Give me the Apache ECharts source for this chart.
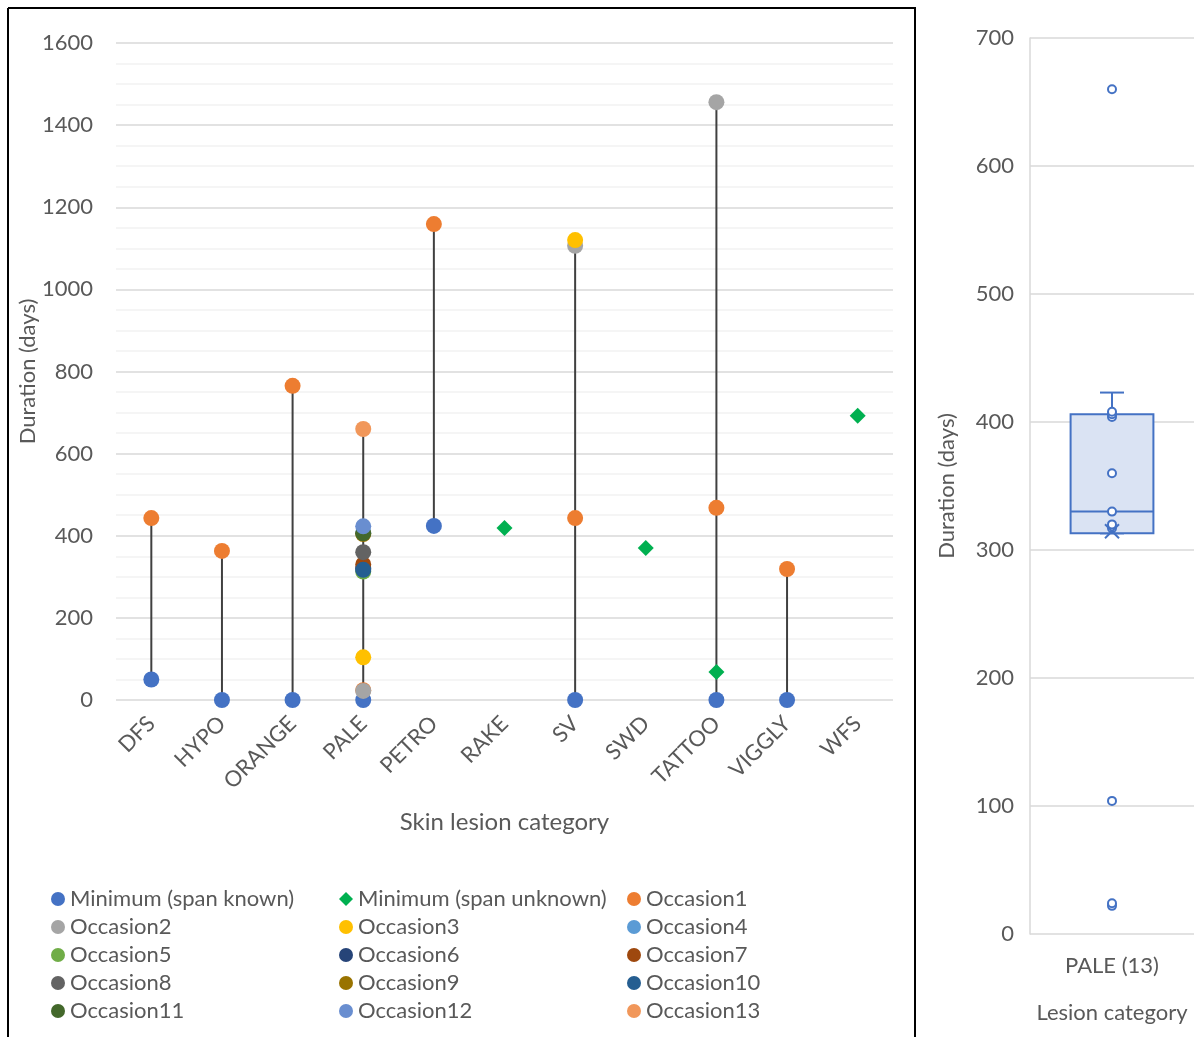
<!DOCTYPE html>
<html><head><meta charset="utf-8">
<script src="https://cdn.jsdelivr.net/npm/echarts@6/dist/echarts.min.js"></script>
<style>html,body{margin:0;padding:0;background:#fff}#c{width:1204px;height:1037px}</style>
</head><body><div id="c"></div>
<script>
const categories = ['DFS','HYPO','ORANGE','PALE','PETRO','RAKE','SV','SWD','TATTOO','VIGGLY','WFS'];
const minKnown   = [50, 0, 0, 0, 424, null, 0, null, 0, 0, null];
const minUnknown = [null, null, null, null, null, 419, null, 370, 68, null, 692];
const occ1  = [443, 363, 765, 24, 1159, null, 443, null, 468, 319, null];
const occ2  = [null, null, null, 22, null, null, 1106, null, 1456, null, null];
const occ3  = [null, null, null, 104, null, null, 1120, null, null, null, null];
const occ4  = [null, null, null, 408, null, null, null, null, null, null, null];
const occ5  = [null, null, null, 313, null, null, null, null, null, null, null];
const occ6  = [null, null, null, 320, null, null, null, null, null, null, null];
const occ7  = [null, null, null, 330, null, null, null, null, null, null, null];
const occ8  = [null, null, null, 360, null, null, null, null, null, null, null];
const occ9  = [null, null, null, 404, null, null, null, null, null, null, null];
const occ10 = [null, null, null, 317, null, null, null, null, null, null, null];
const occ11 = [null, null, null, 406, null, null, null, null, null, null, null];
const occ12 = [null, null, null, 423, null, null, null, null, null, null, null];
const occ13 = [null, null, null, 660, null, null, null, null, null, null, null];
const boxCategory = ['PALE (13)'];

const FONT = 'Lato';
const TXT = '#595959';
const FS = 22;

const occSeries = [
  ['Occasion1', occ1, '#ED7D31'], ['Occasion2', occ2, '#A5A5A5'], ['Occasion3', occ3, '#FFC000'],
  ['Occasion4', occ4, '#5B9BD5'], ['Occasion5', occ5, '#70AD47'], ['Occasion6', occ6, '#264478'],
  ['Occasion7', occ7, '#9E480E'], ['Occasion8', occ8, '#636363'], ['Occasion9', occ9, '#997300'],
  ['Occasion10', occ10, '#255E91'], ['Occasion11', occ11, '#43682B'], ['Occasion12', occ12, '#698ED0'],
  ['Occasion13', occ13, '#F1975A']
];
const allSets = [minKnown, minUnknown].concat(occSeries.map(s => s[1]));

// high-low ranges per category
const ranges = categories.map((c, i) => {
  const vals = allSets.map(a => a[i]).filter(v => v !== null);
  return [i, Math.min(...vals), Math.max(...vals)];
});

// box stats from PALE values
const pIdx = categories.indexOf('PALE');
const pale = occSeries.map(s => s[1][pIdx]).filter(v => v !== null).sort((a, b) => a - b);
function q(arr, p) { const H = (arr.length - 1) * p; const h = Math.floor(H); const e = H - h; return e ? arr[h] + e * (arr[h + 1] - arr[h]) : arr[h]; }
const Q1 = q(pale, 0.25), MED = q(pale, 0.5), Q3 = q(pale, 0.75), IQR = Q3 - Q1;
const hiW = Math.max(...pale.filter(v => v <= Q3 + 1.5 * IQR));
const loW = Math.min(...pale.filter(v => v >= Q1 - 1.5 * IQR));
const mean = pale.reduce((a, b) => a + b, 0) / pale.length;
const innerPts = pale.filter(v => v > loW && v < hiW);
const outPts = pale.filter(v => v < loW || v > hiW);

const series = [];
series.push({
  type: 'custom', xAxisIndex: 0, yAxisIndex: 0, z: 1, silent: true,
  data: ranges,
  renderItem: (params, api) => {
    const a = api.coord([api.value(0), api.value(1)]);
    const b = api.coord([api.value(0), api.value(2)]);
    return { type: 'line', shape: { x1: a[0], y1: a[1], x2: b[0], y2: b[1] }, style: { stroke: '#404040', lineWidth: 2 } };
  }
});
series.push({ name: 'Minimum (span known)', type: 'scatter', symbol: 'circle', symbolSize: 16, z: 3,
  itemStyle: { color: '#4472C4', opacity: 1 }, data: minKnown.map((v, i) => [i, v]) });
series.push({ name: 'Minimum (span unknown)', type: 'scatter', symbol: 'diamond', symbolSize: 16, z: 3,
  itemStyle: { color: '#00B050', opacity: 1 }, data: minUnknown.map((v, i) => [i, v]) });
occSeries.forEach(([n, d, c]) => series.push({ name: n, type: 'scatter', symbol: 'circle', symbolSize: 16, z: 3,
  itemStyle: { color: c, opacity: 1 }, data: d.map((v, i) => [i, v]) }));

// box panel
series.push({
  type: 'custom', xAxisIndex: 1, yAxisIndex: 1, z: 2, silent: true,
  data: [[0, loW, Q1, MED, Q3, hiW]],
  renderItem: (params, api) => {
    const bw = api.size([1, 0])[0] * 0.505;
    const cx = api.coord([0, api.value(3)])[0];
    const yLo = api.coord([0, api.value(1)])[1];
    const yQ1 = api.coord([0, api.value(2)])[1];
    const yMed = api.coord([0, api.value(3)])[1];
    const yQ3 = api.coord([0, api.value(4)])[1];
    const yHi = api.coord([0, api.value(5)])[1];
    const st = { stroke: '#4472C4', lineWidth: 2 };
    const cap = 12;
    return { type: 'group', children: [
      { type: 'line', shape: { x1: cx, y1: yQ3, x2: cx, y2: yHi }, style: st },
      { type: 'line', shape: { x1: cx - cap, y1: yHi, x2: cx + cap, y2: yHi }, style: st },
      { type: 'line', shape: { x1: cx, y1: yQ1, x2: cx, y2: yLo }, style: st },
      { type: 'line', shape: { x1: cx - cap, y1: yLo, x2: cx + cap, y2: yLo }, style: st },
      { type: 'rect', shape: { x: cx - bw / 2, y: yQ3, width: bw, height: yQ1 - yQ3 }, style: { fill: '#DAE3F3', stroke: '#4472C4', lineWidth: 2 } },
      { type: 'line', shape: { x1: cx - bw / 2, y1: yMed, x2: cx + bw / 2, y2: yMed }, style: st }
    ] };
  }
});
series.push({ type: 'scatter', xAxisIndex: 1, yAxisIndex: 1, z: 4, silent: true, symbol: 'circle', symbolSize: 8,
  itemStyle: { color: '#fff', borderColor: '#4472C4', borderWidth: 2, opacity: 1 },
  data: innerPts.concat(outPts).map(v => [0, v]) });
series.push({
  type: 'custom', xAxisIndex: 1, yAxisIndex: 1, z: 5, silent: true,
  data: [[0, mean]],
  renderItem: (params, api) => {
    const p = api.coord([0, api.value(1)]);
    const s = 7;
    return { type: 'group', children: [
      { type: 'line', shape: { x1: p[0] - s, y1: p[1] - s, x2: p[0] + s, y2: p[1] + s }, style: { stroke: '#4472C4', lineWidth: 2 } },
      { type: 'line', shape: { x1: p[0] - s, y1: p[1] + s, x2: p[0] + s, y2: p[1] - s }, style: { stroke: '#4472C4', lineWidth: 2 } }
    ] };
  }
});

function mkLegend(left, names) {
  return { orient: 'vertical', left: left, top: 888, height: 148, padding: 0,
    itemWidth: 14, itemHeight: 14, itemGap: 6, selectedMode: false,
    textStyle: { fontFamily: FONT, fontSize: 22, color: TXT, padding: [0, 0, 0, 0] },
    data: names };
}
const legends = [
  mkLegend(51, ['Minimum (span known)', 'Occasion2', 'Occasion5', 'Occasion8', 'Occasion11']),
  mkLegend(339, ['Minimum (span unknown)', 'Occasion3', 'Occasion6', 'Occasion9', 'Occasion12']),
  mkLegend(627, ['Occasion1', 'Occasion4', 'Occasion7', 'Occasion10', 'Occasion13'])
];

const chart = echarts.init(document.getElementById('c'), null, { renderer: 'canvas' });
chart.setOption({
  backgroundColor: '#fff',
  animation: false,
  textStyle: { fontFamily: FONT },
  legend: legends,
  grid: [
    { left: 116, right: 311, top: 43, bottom: 337 },
    { left: 1030, right: 10, top: 38, bottom: 103 }
  ],
  xAxis: [
    { type: 'category', gridIndex: 0, data: categories, boundaryGap: true,
      axisLine: { show: false }, axisTick: { show: false }, splitLine: { show: false },
      axisLabel: { rotate: 45, margin: 20, fontFamily: FONT, fontSize: FS, color: TXT, interval: 0 },
      name: 'Skin lesion category', nameLocation: 'middle', nameGap: 110, nameMoveOverlap: false,
      nameTextStyle: { fontFamily: FONT, fontSize: 24, color: TXT } },
    { type: 'category', gridIndex: 1, data: boxCategory,
      axisLine: { show: false }, axisTick: { show: false },
      axisLabel: { margin: 21, fontFamily: FONT, fontSize: FS, color: TXT },
      name: 'Lesion category', nameLocation: 'middle', nameGap: 68,
      nameTextStyle: { fontFamily: FONT, fontSize: FS, color: TXT } }
  ],
  yAxis: [
    { type: 'value', gridIndex: 0, min: 0, max: 1600, interval: 200,
      axisLine: { show: false }, axisTick: { show: false },
      axisLabel: { margin: 23, fontFamily: FONT, fontSize: FS, color: TXT, formatter: v => String(v) },
      splitLine: { lineStyle: { color: '#D9D9D9', width: 1.5 } },
      minorTick: { show: false, splitNumber: 4 },
      minorSplitLine: { show: true, lineStyle: { color: '#F2F2F2', width: 1.5 } },
      name: 'Duration (days)', nameLocation: 'middle', nameGap: 77, nameMoveOverlap: false,
      nameTextStyle: { fontFamily: FONT, fontSize: FS, color: TXT } },
    { type: 'value', gridIndex: 1, min: 0, max: 700, interval: 100,
      axisLine: { show: true, lineStyle: { color: '#D9D9D9', width: 1.5 } }, axisTick: { show: false },
      axisLabel: { margin: 16, fontFamily: FONT, fontSize: FS, color: TXT, formatter: v => String(v) },
      splitLine: { lineStyle: { color: '#D9D9D9', width: 1.5 } },
      name: 'Duration (days)', nameLocation: 'middle', nameGap: 72,
      nameTextStyle: { fontFamily: FONT, fontSize: FS, color: TXT } }
  ],
  graphic: [
    { type: 'line', shape: { x1: 8, y1: 8, x2: 916, y2: 8 }, style: { stroke: '#000', lineWidth: 2 } },
    { type: 'line', shape: { x1: 8, y1: 8, x2: 8, y2: 1037 }, style: { stroke: '#000', lineWidth: 2 } },
    { type: 'line', shape: { x1: 915, y1: 8, x2: 915, y2: 1037 }, style: { stroke: '#000', lineWidth: 2 } }
  ],
  series: series
});
</script></body></html>
